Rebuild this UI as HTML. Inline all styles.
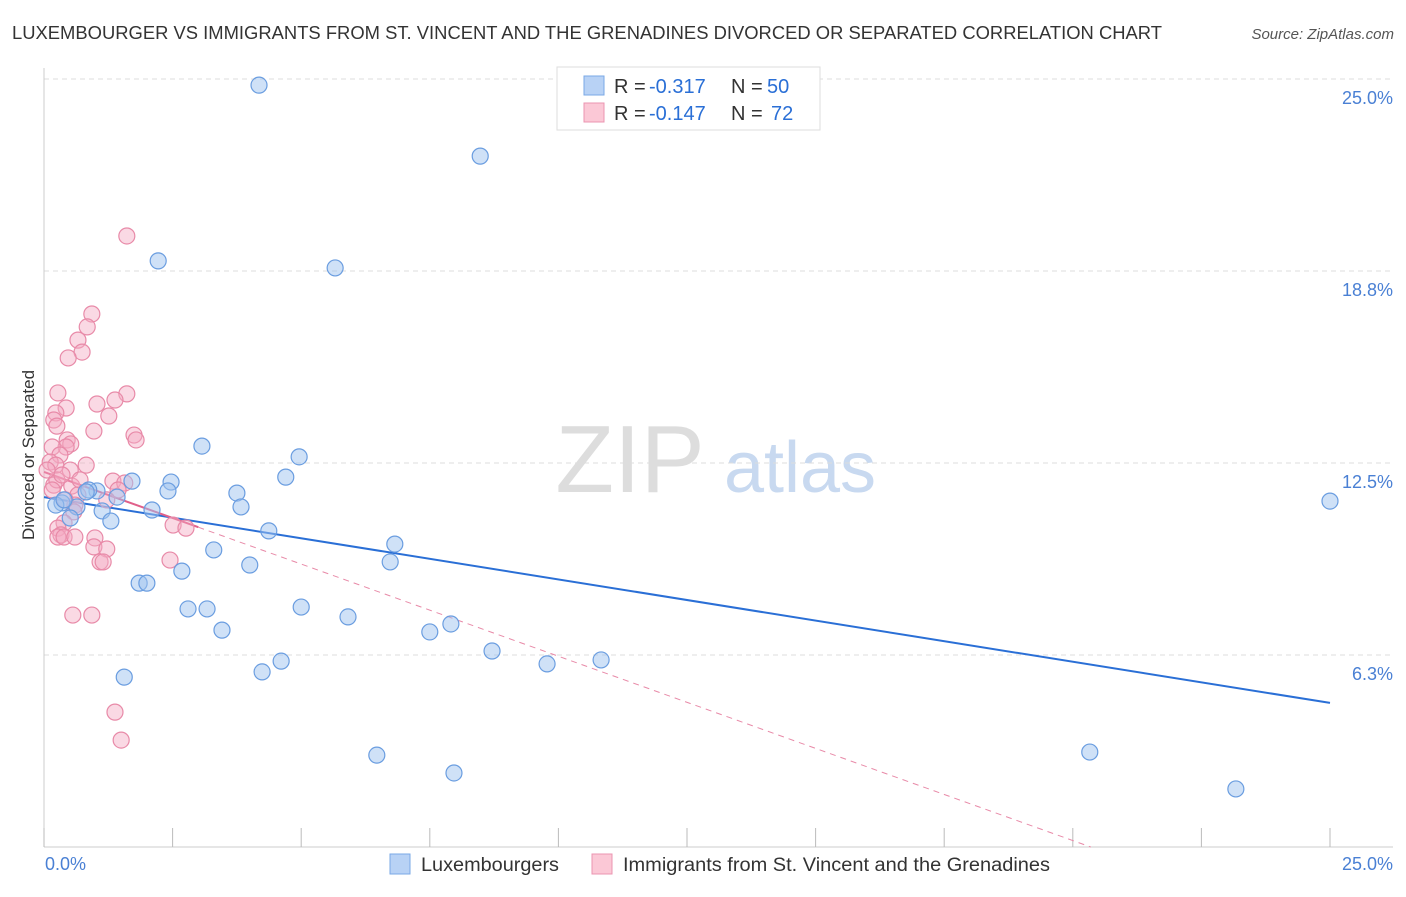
<!DOCTYPE html>
<html><head><meta charset="utf-8"><style>
body{margin:0;background:#fff;font-family:"Liberation Sans",sans-serif;}
svg text{font-family:"Liberation Sans",sans-serif;}
</style></head><body>
<svg id="chart" width="1406" height="892">
<text x="12" y="39" font-size="18" fill="#333" textLength="1150" lengthAdjust="spacingAndGlyphs">LUXEMBOURGER VS IMMIGRANTS FROM ST. VINCENT AND THE GRENADINES DIVORCED OR SEPARATED CORRELATION CHART</text>
<text x="1394" y="39" font-size="15" fill="#555" font-style="italic" text-anchor="end">Source: ZipAtlas.com</text>
<text x="630" y="492" font-size="96" fill="#ddd" font-family="Liberation Serif" text-anchor="middle">ZIP</text>
<text x="800" y="492" font-size="72" fill="#c8d9f0" text-anchor="middle">atlas</text>
<text transform="translate(34,455) rotate(-90)" font-size="17" fill="#333" text-anchor="middle">Divorced or Separated</text>
<g id="grid"></g><g id="axes"></g><g id="lines"></g><g id="pts"></g>
<g>
<rect x="557" y="67" width="263" height="63" fill="#fff" stroke="#ddd"/>
<rect x="584" y="76" width="20" height="19" fill="#b8d2f5" stroke="#7aa8e6"/>
<rect x="584" y="103" width="20" height="19" fill="#fbc8d6" stroke="#eb94b0"/>
<text x="614" y="93" font-size="20" fill="#333">R =</text>
<text x="649" y="93" font-size="20" fill="#2a6fd6">-0.317</text>
<text x="731" y="93" font-size="20" fill="#333">N =</text>
<text x="767" y="93" font-size="20" fill="#2a6fd6">50</text>
<text x="614" y="120" font-size="20" fill="#333">R =</text>
<text x="649" y="120" font-size="20" fill="#2a6fd6">-0.147</text>
<text x="731" y="120" font-size="20" fill="#333">N =</text>
<text x="771" y="120" font-size="20" fill="#2a6fd6">72</text>
</g>
<g>
<rect x="390" y="854" width="20" height="20" fill="#b8d2f5" stroke="#7aa8e6"/>
<text x="421" y="871" font-size="19" fill="#333" textLength="138" lengthAdjust="spacingAndGlyphs">Luxembourgers</text>
<rect x="592" y="854" width="20" height="20" fill="#fbc8d6" stroke="#eb94b0"/>
<text x="623" y="871" font-size="19" fill="#333" textLength="427" lengthAdjust="spacingAndGlyphs">Immigrants from St. Vincent and the Grenadines</text>
</g>
</svg>
<script>
const yTicks=[6.25,12.5,18.75,25];
const yTickLabels=["6.3%","12.5%","18.8%","25.0%"];
const xTicks=[0,2.5,5,7.5,10,12.5,15,17.5,20,22.5,25];
const blueX=[4.18,8.48,2.22,5.66,3.07,4.96,4.70,3.75,2.47,2.41,1.71,1.03,0.87,0.35,0.23,0.64,1.13,1.42,1.30,2.10,0.51,3.83,4.37,6.82,3.30,4.00,6.73,2.68,1.85,2.00,2.80,3.17,5.00,5.91,3.46,7.50,7.91,8.71,9.78,10.83,4.61,4.24,1.56,6.47,7.97,20.33,23.17,25.0,0.39,0.82];
const blueY=[24.80,22.49,19.08,18.85,13.05,12.70,12.04,11.52,11.88,11.59,11.91,11.59,11.62,11.20,11.13,11.07,10.94,11.39,10.61,10.97,10.71,11.07,10.29,9.86,9.67,9.18,9.28,8.98,8.59,8.59,7.75,7.75,7.81,7.49,7.06,7.00,7.26,6.38,5.96,6.09,6.05,5.70,5.53,2.99,2.41,3.09,1.89,11.26,11.30,11.56];
const pinkX=[1.61,0.93,0.84,0.66,0.74,0.47,0.27,1.61,1.03,1.38,1.26,0.43,0.23,0.19,0.25,0.97,1.75,1.79,0.45,0.52,0.43,0.16,0.31,0.12,0.23,0.82,0.51,1.34,1.57,1.44,0.19,0.25,0.54,0.66,1.22,0.60,0.58,0.39,0.27,0.33,0.27,0.39,0.60,2.51,2.76,0.99,0.97,1.22,2.45,1.09,1.15,0.56,0.93,1.38,1.50,0.06,0.16,0.35,0.70,0.41];
const pinkY=[19.89,17.35,16.93,16.50,16.11,15.92,14.78,14.75,14.42,14.55,14.03,14.29,14.13,13.90,13.70,13.54,13.41,13.25,13.25,13.12,13.02,13.02,12.76,12.53,12.43,12.43,12.27,11.91,11.85,11.62,11.78,11.95,11.75,11.46,11.30,11.13,10.91,10.55,10.38,10.16,10.09,10.09,10.09,10.48,10.38,10.06,9.77,9.70,9.34,9.28,9.28,7.55,7.55,4.39,3.48,12.27,11.62,12.11,11.95,11.30];
const blueLine=[11.39,4.69];
const pinkLine=[12.21,-0.6];
const X=v=>44+51.44*v, Y=v=>847-30.72*v;
const NS="http://www.w3.org/2000/svg";
function mk(t,a,p){const e=document.createElementNS(NS,t);for(const k in a)e.setAttribute(k,a[k]);p.appendChild(e);return e;}
const grid=document.getElementById('grid'),axes=document.getElementById('axes'),lines=document.getElementById('lines'),pts=document.getElementById('pts');
yTicks.forEach((t,i)=>{const l=mk('line',{x1:44,x2:1393,y1:Y(t),y2:Y(t),stroke:'#ddd','stroke-dasharray':'5,4'},grid);

const tx=mk('text',{x:1393,y:Y(t)+25,'font-size':18,fill:'#4a80d4','text-anchor':'end'},axes);tx.textContent=yTickLabels[i];
});
const xa=mk('line',{x1:44,x2:1393,y1:847,y2:847,stroke:'#ccc'},axes);

const ya=mk('line',{x1:44,x2:44,y1:68,y2:847,stroke:'#ccc'},axes);

xTicks.forEach(t=>{const l=mk('line',{x1:X(t),x2:X(t),y1:828,y2:847,stroke:'#bbb'},axes);
});
const xl0=mk('text',{x:45,y:870,'font-size':18,fill:'#4a80d4'},axes);xl0.textContent='0.0%';

const xl1=mk('text',{x:1393,y:870,'font-size':18,fill:'#4a80d4','text-anchor':'end'},axes);xl1.textContent='25.0%';

const bl=mk('line',{x1:X(0),y1:Y(blueLine[0]),x2:X(25),y2:Y(blueLine[1]),stroke:'#2a6fd6','stroke-width':2},lines);

const pEnd=-pinkLine[0]/pinkLine[1];
const pd=mk('line',{x1:X(3),y1:Y(pinkLine[0]+pinkLine[1]*3),x2:X(pEnd),y2:Y(0),stroke:'#e88aa8','stroke-width':1,'stroke-dasharray':'6,5'},lines);

const ps=mk('line',{x1:X(0),y1:Y(pinkLine[0]),x2:X(3),y2:Y(pinkLine[0]+pinkLine[1]*3),stroke:'#e0608a','stroke-width':2},lines);

pinkX.forEach((x,i)=>{const c=mk('circle',{cx:X(x),cy:Y(pinkY[i]),r:8,fill:'rgba(245,170,195,0.45)',stroke:'#e88aa8','stroke-width':1.2},pts);
});
blueX.forEach((x,i)=>{const c=mk('circle',{cx:X(x),cy:Y(blueY[i]),r:8,fill:'rgba(160,195,240,0.5)',stroke:'#6a9de0','stroke-width':1.2},pts);
});
</script>
</body></html>
